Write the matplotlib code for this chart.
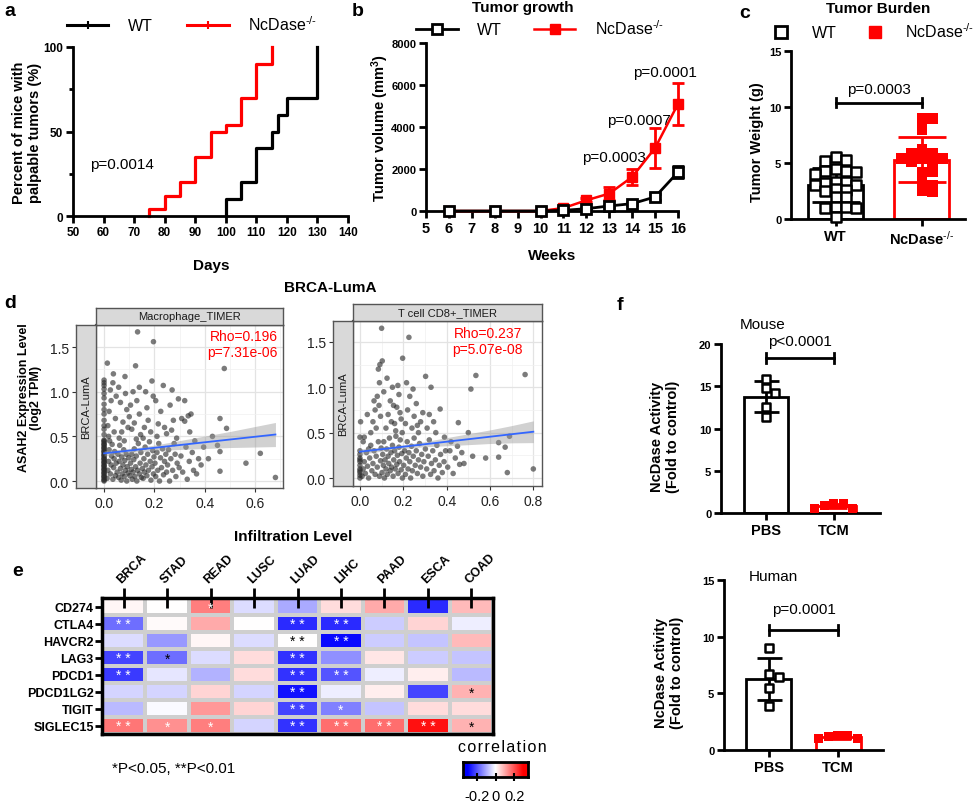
import numpy as np
import matplotlib
matplotlib.use('Agg')
import matplotlib.pyplot as plt
from matplotlib.lines import Line2D
from matplotlib.colors import LinearSegmentedColormap
from matplotlib.ticker import MultipleLocator

plt.rcParams['font.family'] = ['Liberation Sans', 'DejaVu Sans']
plt.rcParams['mathtext.fontset'] = 'custom'
plt.rcParams['mathtext.rm'] = 'Liberation Sans'
plt.rcParams['mathtext.bf'] = 'Liberation Sans:bold'
plt.rcParams['mathtext.it'] = 'Liberation Sans:italic'
plt.rcParams['axes.unicode_minus'] = False

# ---- panel a: tumor onset
days_wt = [100, 105, 110, 115, 117, 120, 130]
pct_wt = [10, 20, 40, 50, 60, 70, 100]
days_ko = [75, 80, 85, 90, 95, 100, 105, 110, 115]
pct_ko = [4, 12, 20, 35, 50, 54, 70, 90, 100]

# ---- panel b: tumor growth
weeks = [6, 8, 10, 11, 12, 13, 14, 15, 16]
vol_wt = [0, 0, 0, 30, 110, 240, 350, 670, 1850]
sd_wt = [0, 0, 0, 20, 40, 60, 80, 160, 280]
vol_ko = [0, 0, 0, 140, 510, 830, 1620, 3000, 5100]
sd_ko = [0, 0, 0, 40, 100, 320, 400, 970, 1000]
pvals_b = ['p=0.0003', 'p=0.0007', 'p=0.0001']
pvals_b_x = [13.2, 14.3, 15.45]
pvals_b_y = [2570, 4330, 6620]

# ---- panel c: tumor weight
weight_wt = [5.5, 5.3, 5.2, 4.5, 4.3, 4.3, 4.2, 4.0, 3.3, 3.3, 3.2, 3.0, 3.0,
             2.7, 2.6, 2.5, 2.0, 2.0, 1.1, 1.1, 1.0, 1.0, 0.2]
weight_ko = [9.0, 9.0, 8.0, 6.2, 5.9, 5.9, 5.4, 5.4, 5.4, 5.1, 5.1, 4.2, 4.2,
             3.3, 3.0, 2.5, 2.4]

# ---- panel d: TIMER scatter (BRCA-LumA)
mac_zero_y = [0.0, 0.02, 0.04, 0.06, 0.08, 0.10, 0.12, 0.14, 0.16, 0.18, 0.20,
              0.22, 0.24, 0.26, 0.28, 0.30, 0.32, 0.34, 0.36, 0.38, 0.40, 0.42,
              0.44, 0.46, 0.01, 0.05, 0.09, 0.13, 0.17, 0.21, 0.25, 0.29, 0.33,
              0.37, 0.41, 0.45, 0.52, 0.58, 0.62, 0.68, 0.75, 0.80, 0.86, 0.93,
              0.98, 1.03, 1.07, 1.10, 1.13]
mac_pts = [
    (0.012, 0.03), (0.015, 0.12), (0.018, 0.22), (0.02, 0.35), (0.022, 0.45),
    (0.025, 0.08), (0.028, 0.18), (0.03, 0.28), (0.032, 0.41), (0.035, 0.02),
    (0.038, 0.15), (0.04, 0.25), (0.042, 0.33), (0.045, 0.06), (0.048, 0.2),
    (0.015, 0.62), (0.02, 0.78), (0.028, 0.9), (0.035, 1.1), (0.04, 0.55),
    (0.045, 0.7), (0.013, 1.32), (0.037, 1.2), (0.025, 1.02), (0.048, 0.95),
    (0.018, 0.5),
    (0.052, 0.1), (0.055, 0.3), (0.058, 0.04), (0.06, 0.22), (0.062, 0.4),
    (0.065, 0.14), (0.068, 0.01), (0.07, 0.27), (0.072, 0.08), (0.075, 0.18),
    (0.078, 0.35), (0.08, 0.05), (0.082, 0.23), (0.085, 0.12), (0.088, 0.3),
    (0.09, 0.0), (0.092, 0.16), (0.095, 0.09), (0.098, 0.26), (0.06, 0.48),
    (0.07, 0.55), (0.075, 0.66), (0.083, 1.17), (0.09, 0.8), (0.095, 0.6),
    (0.065, 0.88), (0.08, 0.45), (0.058, 1.05), (0.085, 0.98), (0.1, 0.72),
    (0.102, 0.06), (0.105, 0.2), (0.108, 0.13), (0.11, 0.3), (0.112, 0.02),
    (0.115, 0.1), (0.118, 0.24), (0.12, 0.36), (0.122, 0.05), (0.125, 0.16),
    (0.128, 0.28), (0.13, 0.0), (0.133, 0.12), (0.136, 0.42), (0.14, 0.08),
    (0.143, 0.2), (0.146, 0.32), (0.148, 0.04), (0.133, 1.67), (0.125, 1.29),
    (0.11, 0.58), (0.12, 0.65), (0.13, 0.9), (0.14, 0.75), (0.145, 0.52),
    (0.115, 1.0), (0.14, 1.05), (0.105, 0.85), (0.128, 0.47),
    (0.152, 0.14), (0.155, 0.03), (0.158, 0.25), (0.16, 0.1), (0.163, 0.38),
    (0.166, 0.18), (0.17, 0.06), (0.173, 0.3), (0.176, 0.12), (0.18, 0.44),
    (0.183, 0.22), (0.186, 0.01), (0.19, 0.16), (0.193, 0.34), (0.196, 0.08),
    (0.198, 0.27), (0.196, 1.56), (0.19, 1.12), (0.16, 0.6), (0.17, 0.82),
    (0.175, 0.68), (0.185, 0.55), (0.195, 0.95), (0.155, 0.48), (0.165, 1.0),
    (0.202, 0.2), (0.205, 0.05), (0.21, 0.32), (0.213, 0.12), (0.217, 0.42),
    (0.22, 0.0), (0.224, 0.26), (0.228, 0.15), (0.232, 0.36), (0.236, 0.07),
    (0.24, 0.22), (0.245, 0.3), (0.248, 0.1), (0.215, 0.64), (0.235, 1.07),
    (0.248, 0.53), (0.21, 0.5), (0.225, 0.78), (0.24, 0.6), (0.205, 0.9),
    (0.252, 0.18), (0.256, 0.35), (0.26, 0.0), (0.265, 0.25), (0.268, 0.57),
    (0.27, 1.02), (0.272, 0.12), (0.278, 0.42), (0.282, 0.3), (0.285, 0.05),
    (0.29, 0.2), (0.295, 0.92), (0.298, 0.15), (0.275, 0.68), (0.288, 0.48),
    (0.262, 0.85),
    (0.305, 0.28), (0.308, 0.7), (0.312, 0.1), (0.32, 0.67), (0.325, 0.38),
    (0.33, 0.02), (0.334, 0.73), (0.338, 0.22), (0.345, 0.75), (0.35, 0.32),
    (0.355, 0.12), (0.36, 0.45), (0.367, 0.08), (0.375, 0.25), (0.385, 0.18),
    (0.395, 0.38), (0.34, 0.55), (0.32, 0.9),
    (0.414, 0.25), (0.46, 0.33), (0.46, 0.11), (0.46, 0.7), (0.477, 1.26),
    (0.486, 0.59), (0.563, 0.2), (0.62, 0.31), (0.68, 0.04), (0.43, 0.5),
    (0.45, 0.4),
]
cd8_zero_y = [0.0, 0.03, 0.06, 0.10, 0.14, 0.18, 0.22, 0.26, 0.30, 0.45, 0.08, 0.2]
cd8_pts = [
    (0.003, 0.62), (0.034, 0.7),
    (0.01, 0.02), (0.015, 0.1), (0.02, 0.18), (0.025, 0.05), (0.03, 0.28),
    (0.035, 0.13), (0.04, 0.0), (0.045, 0.22), (0.05, 0.36), (0.055, 0.08),
    (0.06, 0.16), (0.065, 0.3), (0.07, 0.04), (0.075, 0.24), (0.08, 0.12),
    (0.085, 0.4), (0.09, 0.02), (0.095, 0.19), (0.02, 0.45), (0.05, 0.5),
    (0.06, 0.62), (0.07, 0.75), (0.08, 0.9), (0.085, 1.2), (0.092, 1.25),
    (0.1, 1.65), (0.09, 1.05), (0.075, 0.55), (0.095, 0.68), (0.065, 0.85),
    (0.04, 0.32), (0.015, 0.4), (0.098, 0.33), (0.088, 0.8),
    (0.102, 0.06), (0.105, 0.26), (0.108, 0.14), (0.11, 0.4), (0.113, 0.0),
    (0.116, 0.2), (0.12, 0.1), (0.123, 0.32), (0.126, 0.04), (0.13, 0.24),
    (0.133, 0.16), (0.136, 0.44), (0.14, 0.08), (0.143, 0.28), (0.146, 0.12),
    (0.15, 0.36), (0.153, 0.02), (0.156, 0.2), (0.16, 0.3), (0.163, 0.1),
    (0.166, 0.46), (0.17, 0.15), (0.173, 0.25), (0.176, 0.05), (0.18, 0.34),
    (0.183, 0.18), (0.186, 0.42), (0.19, 0.09), (0.193, 0.27), (0.196, 0.0),
    (0.103, 1.29), (0.197, 1.32), (0.12, 0.55), (0.13, 0.7), (0.14, 0.85),
    (0.15, 1.0), (0.16, 0.6), (0.17, 0.78), (0.18, 0.92), (0.19, 0.65),
    (0.11, 0.95), (0.125, 1.1), (0.145, 0.62), (0.165, 0.52), (0.185, 0.72),
    (0.155, 0.8), (0.175, 1.02), (0.195, 0.5),
    (0.202, 0.14), (0.206, 0.3), (0.21, 0.04), (0.214, 0.22), (0.218, 0.4),
    (0.222, 0.1), (0.226, 0.28), (0.23, 0.18), (0.234, 0.0), (0.238, 0.35),
    (0.242, 0.08), (0.246, 0.24), (0.25, 0.44), (0.255, 0.14), (0.26, 0.3),
    (0.265, 0.05), (0.27, 0.2), (0.275, 0.38), (0.28, 0.12), (0.285, 0.26),
    (0.29, 0.02), (0.295, 0.18), (0.226, 1.55), (0.21, 0.6), (0.22, 0.75),
    (0.23, 0.9), (0.24, 0.55), (0.25, 0.68), (0.26, 0.82), (0.27, 0.5),
    (0.28, 0.62), (0.29, 0.72), (0.215, 1.05), (0.245, 0.98), (0.303, 1.12),
    (0.265, 0.58),
    (0.302, 0.32), (0.308, 0.1), (0.315, 0.24), (0.32, 0.42), (0.326, 0.04),
    (0.33, 0.16), (0.336, 0.3), (0.342, 0.08), (0.348, 0.2), (0.355, 0.36),
    (0.36, 0.0), (0.366, 0.14), (0.372, 0.26), (0.38, 0.06), (0.388, 0.18),
    (0.395, 0.3), (0.328, 1.0), (0.37, 0.76), (0.31, 0.55), (0.34, 0.62),
    (0.32, 0.7), (0.35, 0.5), (0.39, 0.45),
    (0.405, 0.12), (0.415, 0.3), (0.43, 0.05), (0.44, 0.22), (0.454, 0.61),
    (0.46, 0.15), (0.48, 0.16), (0.5, 0.5), (0.512, 0.98), (0.52, 0.24),
    (0.535, 1.13), (0.58, 0.22), (0.64, 0.39), (0.64, 0.23), (0.67, 0.34),
    (0.68, 0.06), (0.69, 0.46), (0.762, 1.14), (0.8, 0.1), (0.42, 0.4),
    (0.45, 0.35), (0.47, 0.28),
]
mac_fit = (0.31, 0.31)        # intercept, slope
cd8_fit = (0.29, 0.275)
mac_band_x = [0, 0.1, 0.2, 0.3, 0.4, 0.5, 0.6, 0.68]
mac_band_h = [0.03, 0.022, 0.03, 0.05, 0.07, 0.09, 0.115, 0.135]
cd8_band_x = [0, 0.1, 0.2, 0.3, 0.4, 0.5, 0.6, 0.7, 0.8]
cd8_band_h = [0.03, 0.022, 0.02, 0.028, 0.045, 0.06, 0.075, 0.095, 0.12]

# ---- panel e: heatmap
genes = ['CD274', 'CTLA4', 'HAVCR2', 'LAG3', 'PDCD1', 'PDCD1LG2', 'TIGIT', 'SIGLEC15']
cancers = ['BRCA', 'STAD', 'READ', 'LUSC', 'LUAD', 'LIHC', 'PAAD', 'ESCA', 'COAD']
corr = [
    [0.01, 0.0, 0.15, -0.04, -0.10, 0.04, 0.10, -0.25, 0.08],
    [-0.17, 0.005, 0.10, 0.0, -0.25, -0.25, -0.06, 0.05, -0.02],
    [-0.04, -0.12, 0.01, -0.04, 0.0, -0.29, -0.06, -0.07, 0.08],
    [-0.22, -0.17, -0.04, 0.04, -0.24, -0.13, 0.03, -0.06, -0.07],
    [-0.23, -0.03, -0.09, 0.04, -0.24, -0.20, -0.02, 0.02, -0.08],
    [-0.05, -0.05, 0.05, -0.05, -0.28, -0.02, 0.02, -0.22, 0.09],
    [-0.08, -0.005, 0.12, 0.05, -0.22, -0.15, -0.07, 0.04, 0.04],
    [0.16, 0.13, 0.15, -0.05, -0.24, 0.17, 0.17, 0.28, 0.09],
]
stars = [
    ['', '', '*', '', '', '', '', '', ''],
    ['**', '', '', '', '**', '**', '', '', ''],
    ['', '', '', '', '**', '**', '', '', ''],
    ['**', '*', '', '', '**', '', '', '', ''],
    ['**', '', '', '', '**', '**', '', '', ''],
    ['', '', '', '', '**', '', '', '', '*'],
    ['', '', '', '', '**', '*', '', '', ''],
    ['**', '*', '*', '', '**', '**', '**', '**', '*'],
]
black_stars = [(2, 4), (3, 1), (5, 8), (7, 8)]

# ---- panel f: NcDase activity
mouse_pbs = [15.9, 14.8, 14.2, 12.6, 11.4]
mouse_tcm = [0.55, 1.1, 0.9, 1.1, 0.5]
human_pbs = [9.0, 6.7, 6.4, 5.5, 3.9]
human_tcm = [1.0, 1.25, 1.2, 1.25, 1.0]

W, H = 980, 804
fig = plt.figure(figsize=(W / 100, H / 100), dpi=100)


def px(x0, y0, x1, y1):
    return [x0 / W, 1 - y1 / H, (x1 - x0) / W, (y1 - y0) / H]


def ftext(x, y, s, **kw):
    fig.text(x / W, 1 - y / H, s, **kw)


def style(ax, xs=8, ys=8):
    for s in ['top', 'right']:
        ax.spines[s].set_visible(False)
    for s in ['left', 'bottom']:
        ax.spines[s].set_linewidth(2)
    ax.tick_params(width=2, length=5, direction='out', pad=2)
    ax.tick_params(axis='x', labelsize=xs)
    ax.tick_params(axis='y', labelsize=ys)
    for t in ax.get_xticklabels() + ax.get_yticklabels():
        t.set_fontweight('bold')


def swarm(vals, dx, dy):
    xs = np.zeros(len(vals))
    placed = []
    for i in np.argsort(vals)[::-1]:
        for k in range(60):
            off = ((k + 1) // 2) * dx * (1 if k % 2 else -1)
            if all(abs(off - a) > dx * 0.99 or abs(vals[i] - b) > dy for a, b in placed):
                break
        xs[i] = off
        placed.append((off, vals[i]))
    return xs


KO = r'NcDase$^{\text{-/-}}$'

# ================= a
ax = fig.add_axes(px(73, 48, 348, 217))
ax.step([days_wt[0]] + days_wt, [0] + pct_wt, where='post', color='black', lw=2.3, clip_on=False)
ax.step([days_ko[0]] + days_ko, [0] + pct_ko, where='post', color='#ff0000', lw=2.3, clip_on=False)
ax.set_xlim(50, 140)
ax.set_ylim(0, 100)
ax.set_xticks(range(50, 141, 10))
ax.set_yticks([0, 50, 100])
ax.set_yticks([25, 75], minor=True)
ax.tick_params(which='minor', axis='y', length=3, width=2)
style(ax, 8.5, 8.5)
ax.text(55.5, 31, 'p=0.0014', fontsize=11, va='center')
ftext(27, 133, 'Percent of mice with\npalpable tumors (%)', rotation=90, ha='center',
      va='center', fontsize=10.5, fontweight='bold', linespacing=1.1)
ftext(211, 266, 'Days', ha='center', va='center', fontsize=11, fontweight='bold')
h = [Line2D([], [], color='black', lw=2.2, marker='|', ms=6, mew=1.5),
     Line2D([], [], color='#ff0000', lw=2.2, marker='|', ms=6, mew=1.5)]
fig.legend(h, ['WT', KO], loc='center', bbox_to_anchor=(192 / W, 1 - 25 / H), ncol=2,
           frameon=False, fontsize=11.5, handlelength=2.6, columnspacing=2.2, handletextpad=1.2)

# ================= b
ax = fig.add_axes(px(426, 44, 678, 212))
ax.errorbar(weeks, vol_wt, yerr=sd_wt, color='black', lw=2, marker='s', ms=7.5,
            mfc='white', mec='black', mew=2, capsize=4, capthick=2, elinewidth=2,
            clip_on=False, zorder=4)
ax.errorbar(weeks, vol_ko, yerr=sd_ko, color='#ff0000', lw=1.8, marker='s', ms=6.5,
            mfc='#ff0000', mec='#ff0000', capsize=4, capthick=2, elinewidth=2,
            clip_on=False, zorder=3)
for s, x, y in zip(pvals_b, pvals_b_x, pvals_b_y):
    ax.text(x, y, s, ha='center', va='center', fontsize=11)
ax.set_xlim(5, 16)
ax.set_ylim(0, 8000)
ax.set_xticks(range(5, 17))
ax.set_yticks(range(0, 8001, 2000))
style(ax, 10.5, 8)
ftext(380, 128, 'Tumor volume (mm$^\\mathbf{3}$)', rotation=90, ha='center', va='center',
      fontsize=10.5, fontweight='bold')
ftext(552, 256, 'Weeks', ha='center', va='center', fontsize=11, fontweight='bold')
ftext(523, 8, 'Tumor growth', ha='center', va='center', fontsize=11, fontweight='bold')
h = [Line2D([], [], color='black', lw=2, marker='s', ms=7.5, mfc='white', mew=2),
     Line2D([], [], color='#ff0000', lw=1.8, marker='s', ms=6.5)]
fig.legend(h, ['WT', KO], loc='center', bbox_to_anchor=(540 / W, 1 - 29 / H), ncol=2,
           frameon=False, fontsize=11.5, handlelength=2.6, columnspacing=2.0, handletextpad=1.2)

# ================= c
ax = fig.add_axes(px(791, 52, 965, 220))
for i, (vals, col) in enumerate([(weight_wt, 'black'), (weight_ko, '#ff0000')]):
    v = np.array(vals)
    ax.bar(i, v.mean(), width=0.64, facecolor='white', edgecolor=col, lw=2, zorder=1)
    ax.errorbar(i, v.mean(), yerr=v.std(ddof=1), color=col, capsize=17, capthick=2,
                elinewidth=2, zorder=2)
    xs = i + swarm(v, 0.12, 0.55)
    if i == 0:
        ax.scatter(xs, v, marker='s', s=55, facecolor='white', edgecolor='black',
                   lw=1.8, zorder=3, clip_on=False)
    else:
        ax.scatter(xs, v, marker='s', s=60, facecolor='#ff0000', edgecolor='none',
                   zorder=3, clip_on=False)
ax.plot([0, 1], [10.4, 10.4], color='black', lw=2)
ax.plot([0, 0], [10.0, 10.8], color='black', lw=2)
ax.plot([1, 1], [10.0, 10.8], color='black', lw=2)
ax.text(0.5, 11.6, 'p=0.0003', ha='center', va='center', fontsize=11)
ax.set_xlim(-0.52, 1.5)
ax.set_ylim(0, 15)
ax.set_xticks([0, 1])
ax.set_xticklabels(['WT', KO])
ax.set_yticks([0, 5, 10, 15])
style(ax, 10.5, 8)
ftext(757, 142, 'Tumor Weight (g)', rotation=90, ha='center', va='center',
      fontsize=10.5, fontweight='bold')
ftext(878, 9, 'Tumor Burden', ha='center', va='center', fontsize=11, fontweight='bold')
h = [Line2D([], [], ls='none', marker='s', ms=8, mfc='white', mec='black', mew=2),
     Line2D([], [], ls='none', marker='s', ms=8, mfc='#ff0000', mec='#ff0000')]
fig.legend(h, ['WT', KO], loc='center', bbox_to_anchor=(874 / W, 1 - 32 / H), ncol=2,
           frameon=False, fontsize=11.5, handlelength=1.0, columnspacing=1.9, handletextpad=1.4)


# ================= d
def timer(main, top, left, zero_y, pts, fit, band_x, band_h, xlim, ylim, xticks,
          title, label, lab_xy):
    ax = fig.add_axes(px(*main))
    xy = np.array(pts)
    xs = np.r_[np.zeros(len(zero_y)), xy[:, 0]]
    ys = np.r_[zero_y, xy[:, 1]]
    ax.scatter(xs, ys, s=16, color='#2b2b2b', alpha=0.62, edgecolors='none', zorder=2)
    bx = np.array(band_x)
    fy = fit[0] + fit[1] * bx
    ax.fill_between(bx, fy - np.array(band_h), fy + np.array(band_h), color='#999999',
                    alpha=0.45, lw=0, zorder=3)
    ax.plot(bx, fy, color='#3366ff', lw=1.3, zorder=4)
    ax.text(lab_xy[0], lab_xy[1], label, ha='right', va='top', color='#ff0000',
            fontsize=10, linespacing=1.15, zorder=5)
    ax.set_xlim(*xlim)
    ax.set_ylim(*ylim)
    ax.xaxis.set_major_locator(MultipleLocator(0.2))
    ax.xaxis.set_minor_locator(MultipleLocator(0.1))
    ax.yaxis.set_major_locator(MultipleLocator(0.5))
    ax.yaxis.set_minor_locator(MultipleLocator(0.25))
    ax.grid(which='major', color='#e3e3e3', lw=0.9, zorder=0)
    ax.grid(which='minor', color='#f0f0f0', lw=0.5, zorder=0)
    ax.set_axisbelow(True)
    for s in ax.spines.values():
        s.set_color('#555555')
        s.set_linewidth(1.0)
    ax.spines['left'].set_linewidth(1.6)
    ax.tick_params(axis='y', which='both', left=False, labelleft=False)
    ax.tick_params(axis='x', which='major', length=3, color='#333333', labelsize=10,
                   labelcolor='#222222', pad=3)
    ax.tick_params(axis='x', which='minor', length=0)
    ax.set_xticks(xticks)
    ax.set_xticklabels(['%.1f' % t for t in xticks])

    st = fig.add_axes(px(*top))
    st.set_facecolor('#d9d9d9')
    st.set_xticks([])
    st.set_yticks([])
    for s in st.spines.values():
        s.set_color('#555555')
        s.set_linewidth(1.0)
    st.text(0.5, 0.5, title, ha='center', va='center', fontsize=8, color='#1a1a1a',
            transform=st.transAxes)

    sl = fig.add_axes(px(*left))
    sl.set_facecolor('#d9d9d9')
    sl.set_xticks([])
    sl.set_ylim(*ylim)
    sl.set_yticks([0, 0.5, 1.0, 1.5])
    sl.set_yticklabels(['0.0', '0.5', '1.0', '1.5'])
    sl.tick_params(axis='y', length=3, color='#333333', labelsize=10, labelcolor='#222222', pad=2)
    for s in sl.spines.values():
        s.set_color('#555555')
        s.set_linewidth(1.0)
    sl.text(0.5, 0.5, 'BRCA-LumA', rotation=90, ha='center', va='center', fontsize=8,
            color='#1a1a1a', transform=sl.transAxes)


timer((96, 326, 283, 489), (96, 309, 283, 326), (76, 326, 96, 489), mac_zero_y, mac_pts,
      mac_fit, mac_band_x, mac_band_h, (-0.032, 0.71), (-0.078, 1.747),
      [0.0, 0.2, 0.4, 0.6], 'Macrophage_TIMER', 'Rho=0.196\np=7.31e-06', (0.69, 1.70))
timer((353, 322, 542, 487), (353, 305, 542, 322), (333, 322, 353, 487), cd8_zero_y, cd8_pts,
      cd8_fit, cd8_band_x, cd8_band_h, (-0.032, 0.84), (-0.088, 1.73),
      [0.0, 0.2, 0.4, 0.6, 0.8], 'T cell CD8+_TIMER', 'Rho=0.237\np=5.07e-08', (0.75, 1.67))
ftext(330, 288, 'BRCA-LumA', ha='center', va='center', fontsize=11, fontweight='bold')
ftext(30, 398, 'ASAH2 Expression Level\n(log2 TPM)', rotation=90, ha='center',
      va='center', fontsize=9, fontweight='bold', linespacing=1.1)
ftext(293, 537, 'Infiltration Level', ha='center', va='center', fontsize=11, fontweight='bold')

# ================= e
cmap = LinearSegmentedColormap.from_list('bwr2', ['#0000ff', '#ffffff', '#ff0000'])
ax = fig.add_axes(px(102, 599, 493, 735))
ax.pcolormesh(np.array(corr), cmap=cmap, vmin=-0.3, vmax=0.3, edgecolors='#cfcfcf', lw=1.6)
ax.set_xlim(0, 9)
ax.set_ylim(8, 0)
for i, row in enumerate(stars):
    for j, s in enumerate(row):
        if s:
            c = 'black' if (i, j) in black_stars else 'white'
            ax.text(j + 0.5, i + 0.55, ' '.join(s), ha='center', va='center', color=c,
                    fontsize=10)
ax.set_xticks(np.arange(9) + 0.5)
ax.set_xticklabels(cancers, rotation=45, ha='left', rotation_mode='anchor',
                   fontsize=9, fontweight='bold')
ax.set_yticks(np.arange(8) + 0.5)
ax.set_yticklabels(genes, fontsize=9, fontweight='bold')
ax.tick_params(axis='x', top=True, bottom=False, labeltop=True, labelbottom=False,
               direction='inout', length=14, width=2, pad=2)
ax.tick_params(axis='y', direction='out', length=5, width=2, pad=1)
for s in ax.spines.values():
    s.set_linewidth(2.5)
ftext(112, 769, '*P<0.05, **P<0.01', ha='left', va='center', fontsize=11)

cax = fig.add_axes(px(463, 763, 528, 778))
grad = np.linspace(-0.35, 0.35, 256)[None, :]
cax.imshow(grad, cmap=cmap, vmin=-0.3, vmax=0.3, aspect='auto', extent=[-0.35, 0.35, 0, 1])
cax.set_xticks([-0.2, 0, 0.2])
cax.set_xticklabels(['-0.2', '0', '0.2'], fontsize=10.5)
cax.set_yticks([])
cax.tick_params(axis='x', direction='inout', length=6, width=1.5, pad=6)
for s in cax.spines.values():
    s.set_linewidth(2)
ftext(502, 748, 'c o r r e l a t i o n'.replace(' ', '\u200a'), ha='center', va='center',
      fontsize=11.5)


# ================= f
def activity(rect, pbs, tcm, ymax, yticks, pbar, ptext_y, ptext, title, title_xy,
             ylab_xy, xlim):
    ax = fig.add_axes(px(*rect))
    for i, (vals, col) in enumerate([(pbs, 'black'), (tcm, '#ff0000')]):
        v = np.array(vals)
        ax.bar(i, v.mean(), width=0.65, facecolor='white', edgecolor=col, lw=2, zorder=1)
        ax.errorbar(i, v.mean(), yerr=v.std(ddof=1), color=col, capsize=9, capthick=2,
                    elinewidth=2, zorder=2)
        xs = i + swarm(v, 0.14, ymax * 0.05)
        if i == 0:
            ax.scatter(xs, v, marker='s', s=40, facecolor='white', edgecolor='black',
                       lw=1.8, zorder=3, clip_on=False)
        else:
            ax.scatter(xs, v, marker='s', s=45, facecolor='#ff0000', edgecolor='none',
                       zorder=3, clip_on=False)
    tick = ymax * 0.03
    ax.plot([0, 1], [pbar, pbar], color='black', lw=2)
    ax.plot([0, 0], [pbar - tick, pbar + tick], color='black', lw=2)
    ax.plot([1, 1], [pbar - tick, pbar + tick], color='black', lw=2)
    ax.text(0.5, ptext_y, ptext, ha='center', va='center', fontsize=11)
    ax.set_xlim(*xlim)
    ax.set_ylim(0, ymax)
    ax.set_xticks([0, 1])
    ax.set_xticklabels(['PBS', 'TCM'])
    ax.set_yticks(yticks)
    style(ax, 10.5, 8)
    ftext(title_xy[0], title_xy[1], title, ha='center', va='center', fontsize=11)
    ftext(ylab_xy[0], ylab_xy[1], 'NcDase Activity\n(Fold to control)', rotation=90,
          ha='center', va='center', fontsize=10.5, fontweight='bold', linespacing=1.1)


activity((721, 345, 880, 514), mouse_pbs, mouse_tcm, 20, [0, 5, 10, 15, 20], 18.3, 20.4,
         'p<0.0001', 'Mouse', (763, 325), (665, 437), (-0.66, 1.68))
activity((724, 581, 883, 751), human_pbs, human_tcm, 15, [0, 5, 10, 15], 10.6, 12.4,
         'p=0.0001', 'Human', (773, 577), (669, 673), (-0.65, 1.65))

# ================= panel letters
for s, x, y in [('a', 10, 12), ('b', 358, 12), ('c', 745, 13), ('d', 10, 303),
                ('e', 18, 572), ('f', 620, 305)]:
    ftext(x, y, s, ha='center', va='center', fontsize=14, fontweight='bold')

fig.savefig('out.png', dpi=100)
